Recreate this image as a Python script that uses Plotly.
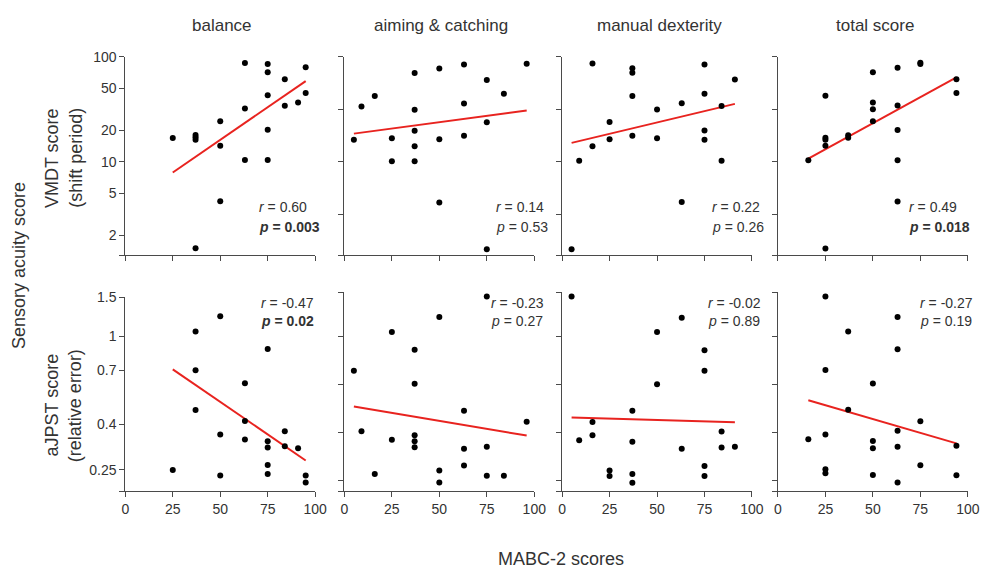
import math
import plotly.graph_objects as go

# ---------------- data ----------------
panel_titles = ["balance", "aiming & catching", "manual dexterity", "total score"]

# Top row: VMDT score (shift period)
bal_x = [25, 37, 37, 37, 37, 50, 50, 50, 63, 63, 63, 75, 75, 75, 75, 75, 84, 84, 91, 95, 95]
bal_vmdt = [16.8, 18.0, 17.1, 16.2, 1.5, 24.2, 14.2, 4.2, 87, 32, 10.4, 85, 70.8, 42.8, 20.1, 10.4, 61, 34, 36.5, 79, 45]
aim_x = [5, 9, 16, 25, 25, 37, 37, 37, 37, 37, 50, 50, 50, 63, 63, 63, 75, 75, 75, 84, 96]
aim_vmdt = [16.2, 33.5, 42.2, 16.7, 10.1, 69.8, 31.2, 19.7, 14.0, 10.1, 77.2, 16.4, 4.1, 84.1, 35.7, 17.7, 60, 23.7, 1.47, 44.3, 85.4]
man_x = [5, 9, 16, 16, 25, 25, 37, 37, 37, 37, 50, 50, 63, 63, 75, 75, 75, 75, 84, 84, 91]
man_vmdt = [1.47, 10.2, 86, 14.0, 23.9, 16.4, 77.6, 70.3, 42.2, 17.7, 31.4, 16.7, 36, 4.13, 84, 44.4, 19.8, 16.2, 33.8, 10.2, 60.5]
tot_x = [16, 25, 25, 25, 25, 25, 37, 37, 50, 50, 50, 50, 63, 63, 63, 63, 63, 75, 75, 94, 94]
tot_vmdt = [10.3, 42.5, 16.9, 16.2, 14.2, 1.49, 17.9, 16.9, 70.8, 36.5, 31.6, 24.2, 78.3, 34.2, 20, 10.3, 4.19, 87.2, 85, 60.8, 45]

# Bottom row: aJPST score (relative error)
bal_ajpst = [0.249, 1.52, 1.05, 0.702, 0.464, 1.23, 0.36, 0.235, 0.614, 0.414, 0.3415, 0.875, 0.336, 0.315, 0.262, 0.239, 0.373, 0.3186, 0.312, 0.235, 0.219]
aim_ajpst = [0.702, 0.373, 0.239, 1.05, 0.3415, 0.872, 0.612, 0.358, 0.336, 0.316, 1.23, 0.248, 0.219, 0.462, 0.311, 0.261, 1.52, 0.318, 0.235, 0.235, 0.412]
man_ajpst = [1.52, 0.340, 0.411, 0.358, 0.248, 0.234, 0.462, 0.3346, 0.239, 0.218, 1.05, 0.61, 1.22, 0.311, 0.869, 0.702, 0.26, 0.234, 0.372, 0.315, 0.318]
tot_ajpst = [0.343, 1.52, 0.707, 0.361, 0.251, 0.241, 1.056, 0.467, 0.614, 0.337, 0.313, 0.2365, 1.23, 0.878, 0.375, 0.318, 0.219, 0.414, 0.262, 0.321, 0.2357]

# Regression lines (end points)
fit_x = [[25, 95], [5, 96], [5, 91], [16, 94]]
fit_vmdt = [[7.9, 58.4], [18.5, 30.7], [15.1, 35.5], [10.7, 63.6]]
fit_ajpst = [[0.709, 0.275], [0.483, 0.357], [0.431, 0.41], [0.516, 0.329]]

stats_vmdt = [("0.60", "0.003", True), ("0.14", "0.53", False), ("0.22", "0.26", False), ("0.49", "0.018", True)]
stats_ajpst = [("-0.47", "0.02", True), ("-0.23", "0.27", False), ("-0.02", "0.89", False), ("-0.27", "0.19", False)]

x_ticks = [0, 25, 50, 75, 100]
vmdt_ticks_first = [100, 50, 20, 10, 5, 2]
vmdt_ticks_other = [100, 31.62, 10, 3.162]
ajpst_ticks_first = [1.5, 1, 0.7, 0.4, 0.25]
ajpst_ticks_other = [1.59, 1, 0.6065, 0.3679, 0.2231]

# ---------------- layout helpers ----------------
W, H = 987, 569
FONT = "Liberation Sans, Arial, Helvetica, sans-serif"
AX_COL = "#4a4a4a"
TXT_COL = "#333333"


def fx(px):
    return px / W


def fy(py):
    return 1 - py / H


col_left = [123.3, 346.0, 567.3, 786.7]
col_w = 193.0
top_dom = (49.3, 250.7)
bot_dom = [(293.3, 490.0), (288.3, 490.0), (288.3, 490.0), (288.3, 490.0)]

xs = [bal_x, aim_x, man_x, tot_x]
vmdt = [bal_vmdt, aim_vmdt, man_vmdt, tot_vmdt]
ajpst = [bal_ajpst, aim_ajpst, man_ajpst, tot_ajpst]

fig = go.Figure()
layout = {}

for c in range(4):
    for r in range(2):
        idx = c + 1 + 4 * r
        xa = "x" if idx == 1 else f"x{idx}"
        ya = "y" if idx == 1 else f"y{idx}"
        yvals = vmdt[c] if r == 0 else ajpst[c]
        fy_vals = fit_vmdt[c] if r == 0 else fit_ajpst[c]
        fig.add_trace(go.Scatter(x=fit_x[c], y=fy_vals, mode="lines",
                                 line=dict(color="#e8231f", width=2),
                                 xaxis=xa, yaxis=ya, showlegend=False, hoverinfo="skip"))
        fig.add_trace(go.Scatter(x=xs[c], y=yvals, mode="markers", cliponaxis=False,
                                 marker=dict(color="black", size=6),
                                 xaxis=xa, yaxis=ya, showlegend=False))

        x0 = col_left[c]
        x1 = x0 + col_w
        if r == 0:
            d0, d1 = top_dom
            ylo, yhi = 1.29, 100
            if c == 0:
                tv = vmdt_ticks_first + [ylo]
                tt = [str(v) for v in vmdt_ticks_first] + [""]
            else:
                tv = vmdt_ticks_other + [ylo]
                tt = [""] * len(tv)
        else:
            d0, d1 = bot_dom[c]
            ylo = 0.2
            yhi = 1.5 if c == 0 else 1.59
            if c == 0:
                tv = ajpst_ticks_first + [ylo]
                tt = [str(v) for v in ajpst_ticks_first] + [""]
            else:
                tv = ajpst_ticks_other + [ylo]
                tt = [""] * len(tv)

        common = dict(showline=True, linecolor=AX_COL, linewidth=1, ticks="outside",
                      ticklen=5, tickcolor=AX_COL, tickwidth=1, showgrid=False,
                      zeroline=False, tickfont=dict(family=FONT, size=14, color=TXT_COL))
        xkey = "xaxis" if idx == 1 else f"xaxis{idx}"
        ykey = "yaxis" if idx == 1 else f"yaxis{idx}"
        layout[xkey] = dict(common, domain=[fx(x0), fx(x1)], range=[0, 100],
                            tickvals=x_ticks, ticktext=[str(t) for t in x_ticks],
                            showticklabels=(r == 1), anchor=ya)
        layout[ykey] = dict(common, type="log", domain=[fy(d1), fy(d0)],
                            range=[math.log10(ylo), math.log10(yhi)],
                            tickvals=tv, ticktext=tt, anchor=xa)

fig.update_layout(**layout)

annotations = []
# column titles
for c, t in enumerate(panel_titles):
    annotations.append(dict(x=fx(col_left[c] + col_w / 2 + 2), y=fy(18), xref="paper", yref="paper",
                            text=t, showarrow=False, xanchor="center", yanchor="middle",
                            font=dict(family=FONT, size=17, color=TXT_COL)))

# statistics text
vm_left = [256.7, 497.7, 717.7, 918.0]
aj_left = [259.3, 493.3, 713.3, 929.3]
for c in range(4):
    rv, pv, bold = stats_vmdt[c]
    annotations.append(dict(x=fx(vm_left[c]), y=fy(202), xref="paper", yref="paper",
                            text=f"<i>r</i> = {rv}", showarrow=False, xanchor="left", yanchor="middle",
                            font=dict(family=FONT, size=14, color=TXT_COL)))
    ptxt = f"<i>p</i> = {pv}"
    if bold:
        ptxt = f"<b>{ptxt}</b>"
    annotations.append(dict(x=fx(vm_left[c]), y=fy(222), xref="paper", yref="paper",
                            text=ptxt, showarrow=False, xanchor="left", yanchor="middle",
                            font=dict(family=FONT, size=14, color=TXT_COL)))
    rv, pv, bold = stats_ajpst[c]
    annotations.append(dict(x=fx(aj_left[c]), y=fy(299.5), xref="paper", yref="paper",
                            text=f"<i>r</i> = {rv}", showarrow=False, xanchor="left", yanchor="middle",
                            font=dict(family=FONT, size=14, color=TXT_COL)))
    ptxt = f"<i>p</i> = {pv}"
    if bold:
        ptxt = f"<b>{ptxt}</b>"
    annotations.append(dict(x=fx(aj_left[c]), y=fy(317.5), xref="paper", yref="paper",
                            text=ptxt, showarrow=False, xanchor="left", yanchor="middle",
                            font=dict(family=FONT, size=14, color=TXT_COL)))

# axis titles
side_labels = [("VMDT score", 49, 152), ("(shift period)", 73, 152),
               ("aJPST score", 49, 403), ("(relative error)", 73, 403),
               ("Sensory acuity score", 16, 261)]
for t, px, py in side_labels:
    annotations.append(dict(x=fx(px), y=fy(py), xref="paper", yref="paper", text=t,
                            showarrow=False, textangle=-90, xanchor="center", yanchor="middle",
                            font=dict(family=FONT, size=18, color=TXT_COL)))
annotations.append(dict(x=fx(566), y=fy(559), xref="paper", yref="paper", text="MABC-2 scores",
                        showarrow=False, xanchor="center", yanchor="middle",
                        font=dict(family=FONT, size=18, color=TXT_COL)))

fig.update_layout(width=W, height=H, margin=dict(l=0, r=0, t=0, b=0),
                  paper_bgcolor="white", plot_bgcolor="white", annotations=annotations,
                  font=dict(family=FONT, color=TXT_COL))

fig.write_html("out.html", config={"displayModeBar": False},
               post_script="document.body.style.margin='0px';")
